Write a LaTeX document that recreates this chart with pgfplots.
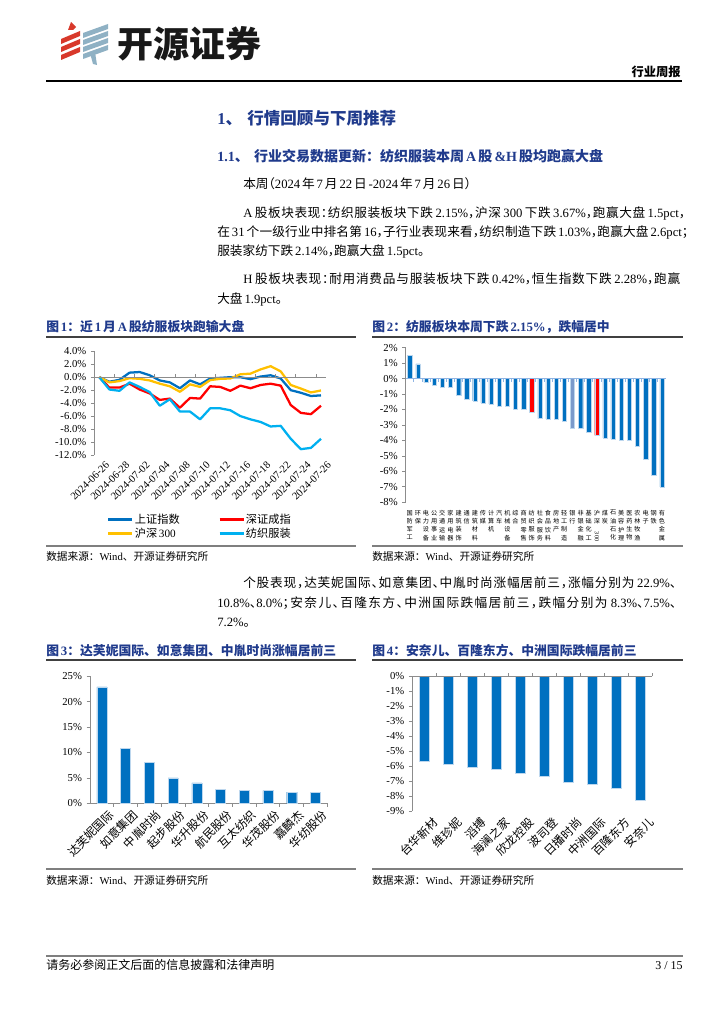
\documentclass[border=0pt]{standalone}
\usepackage{fontspec}
\usepackage{graphicx}
\usepackage{pgfplots}
\pgfplotsset{compat=1.18}
\setmainfont{Liberation Serif}
\newfontfamily\cjkn{Noto Sans CJK SC}
\newfontfamily\cjkh{Noto Sans CJK SC}[RawFeature=+halt]
\newcommand\cjk{\cjkn}

% switch to the CJK font on Chinese characters, back to the main font after them
\newcount\cc \cc="4E00
\loop \XeTeXcharclass\cc=1 \ifnum\cc<"9FFF \advance\cc by 1 \repeat
\XeTeXcharclass"3001=3 \XeTeXcharclass"3002=3 \XeTeXcharclass"FF0C=3
\XeTeXcharclass"FF1A=3 \XeTeXcharclass"FF1B=3 \XeTeXcharclass"FF09=3
\XeTeXcharclass"FF08=2
\newcommand\cjkglue{\hskip0pt plus 1pt\relax}
\newcommand\latglue{\hskip0.15em plus 1pt\relax}
\XeTeXinterchartokenstate=1
\XeTeXinterchartoks 0 1 = {\latglue\cjk}
\XeTeXinterchartoks 0 2 = {\cjk}
\XeTeXinterchartoks 0 3 = {\cjk}
\XeTeXinterchartoks 1 0 = {\latglue\rmfamily}
\XeTeXinterchartoks 2 0 = {\rmfamily}
\XeTeXinterchartoks 3 0 = {\rmfamily}
\XeTeXinterchartoks 4095 1 = {\cjk}
\XeTeXinterchartoks 4095 2 = {\cjk}
\XeTeXinterchartoks 4095 3 = {\cjk}
\XeTeXinterchartoks 1 4095 = {\rmfamily}
\XeTeXinterchartoks 2 4095 = {\rmfamily}
\XeTeXinterchartoks 3 4095 = {\rmfamily}
\XeTeXinterchartoks 1 1 = {\cjkglue}
\XeTeXinterchartoks 1 2 = {\cjkglue}
\XeTeXinterchartoks 1 3 = {\cjkglue}
\XeTeXinterchartoks 2 1 = {\cjkglue}
\XeTeXinterchartoks 3 1 = {\cjkglue}
\XeTeXinterchartoks 3 2 = {\cjkglue}
\XeTeXinterchartoks 3 3 = {\cjkglue}

\definecolor{navy}{HTML}{1F3A8C}
\definecolor{axgray}{HTML}{8C8C8C}
\definecolor{cSH}{HTML}{0070C0}
\definecolor{cSZ}{HTML}{FF0000}
\definecolor{cHS}{HTML}{FFC000}
\definecolor{cTX}{HTML}{00B0F0}
\definecolor{barblue}{HTML}{0070C0}
\definecolor{baredge}{HTML}{BDD7EE}
\definecolor{bargray}{HTML}{7A9ACB}
\definecolor{zeroblue}{HTML}{8EB4E3}
\definecolor{logored}{HTML}{D8392B}
\definecolor{logoblue}{HTML}{8FB1C4}
\definecolor{rulegray}{HTML}{7F7F7F}

\newdimen\pxu \pxu=0.75pt
\newcommand\bline[3]{\node[anchor=base west,inner sep=0pt,font=\fontsize{9.5}{11}\selectfont] at (#1) {\let\cjk\cjkh\hbox to #2{#3}};}
\newcommand\nline[2]{\node[anchor=base west,inner sep=0pt,font=\fontsize{9.5}{11}\selectfont] at (#1) {\let\cjk\cjkh #2};}
\newcommand\figtitle[2]{\node[anchor=base west,inner sep=0pt,text=navy,font=\bfseries\fontsize{9.6}{11}\selectfont] at (#1) {#2};}
\newcommand\source[1]{\node[anchor=base west,inner sep=0pt,font=\fontsize{8}{9}\selectfont] at (#1) {数据来源：Wind、开源证券研究所};}

\pgfplotsset{
  rc/.style={scale only axis, axis lines*=left, tick align=outside,
    axis line style={draw=axgray, line width=0.7pt},
    ytick style={draw=axgray, line width=0.6pt},
    xtick style={draw=none},
    major tick length=2.5pt,
    tick label style={font=\fontsize{8}{9}\selectfont, text=black},
    /pgf/number format/assume math mode=true,
    clip=false},
}

\begin{document}
\begin{tikzpicture}[x=0.75pt,y=-0.75pt]
\fill[white] (0,0) rectangle (724,1024);
\useasboundingbox (0,0) rectangle (724,1024);

% logo
\fill[logored] (68,30) -- (71,22) -- (76,27) -- (73,30) -- cycle;
\foreach \k in {0,1,2}{
  \fill[logored] (61,{39+8*\k}) -- (80,{31+8*\k}) -- (80,{36+8*\k}) -- (61,{44+8*\k}) -- cycle;}
\foreach \k in {0,1,2,3}{
  \fill[logoblue] (83,{33+7*\k}) -- (108,{24+7*\k}) -- (108,{29+7*\k}) -- (83,{38+7*\k}) -- cycle;}
\fill[logoblue] (90,53) -- (95,52) -- (97,65) -- (93,64) -- cycle;
\node[anchor=west,inner sep=0pt,text=black!90,font=\bfseries\fontsize{27}{30}\selectfont] at (117,44) {开源证券};

% header
\node[anchor=base east,inner sep=0pt,font=\bfseries\fontsize{9.2}{10}\selectfont] at (681,77) {行业周报};
\draw[line width=0.8pt] (46,81) -- (682,81);

% headings and text
\node[anchor=base west,inner sep=0pt,text=navy,font=\bfseries\fontsize{12.4}{14}\selectfont] at (217,124) {1、\hspace{4pt}行情回顾与下周推荐};
\node[anchor=base west,inner sep=0pt,text=navy,font=\bfseries\fontsize{10.5}{12}\selectfont] at (217,161) {1.1、\hspace{4pt}行业交易数据更新：纺织服装本周A股\&H股均跑赢大盘};
\nline{243,188}{本周（2024年7月22日-2024年7月26日）}
\bline{243,217}{442\pxu}{A股板块表现：纺织服装板块下跌2.15\%，沪深300下跌3.67\%，跑赢大盘1.5pct，}
\bline{217,236}{471\pxu}{在31个一级行业中排名第16，子行业表现来看，纺织制造下跌1.03\%，跑赢大盘2.6pct；}
\nline{217,255}{服装家纺下跌2.14\%，跑赢大盘1.5pct。}
\bline{243,283}{437\pxu}{H股板块表现：耐用消费品与服装板块下跌0.42\%，恒生指数下跌2.28\%，跑赢}
\nline{217,303}{大盘1.9pct。}
\bline{243,587}{433\pxu}{个股表现，达芙妮国际、如意集团、中胤时尚涨幅居前三，涨幅分别为22.9\%、}
\bline{217,607}{459\pxu}{10.8\%、8.0\%；安奈儿、百隆东方、中洲国际跌幅居前三，跌幅分别为8.3\%、7.5\%、}
\nline{217,626}{7.2\%。}

% figure frames
\figtitle{46,331}{图1：近1月A股纺服板块跑输大盘}
\figtitle{372,331}{图2：纺服板块本周下跌2.15\%，跌幅居中}
\figtitle{46,655}{图3：达芙妮国际、如意集团、中胤时尚涨幅居前三}
\figtitle{372,655}{图4：安奈儿、百隆东方、中洲国际跌幅居前三}
\draw[black!75,line width=1pt] (46,337) -- (356,337) (372,337) -- (683,337)
  (46,660) -- (356,660) (372,660) -- (683,660);
\draw[rulegray,line width=1.5pt] (46,546) -- (356,546) (372,546) -- (683,546)
  (46,869) -- (356,869) (372,869) -- (683,869);
\source{46,560}
\source{372,560}
\source{46,884}
\source{372,884}

% footer
\draw[rulegray,line width=1.5pt] (46,956) -- (683,956);
\node[anchor=base west,inner sep=0pt,font=\fontsize{9}{10}\selectfont] at (46,969) {请务必参阅正文后面的信息披露和法律声明};
\node[anchor=base east,inner sep=0pt,font=\fontsize{9}{10}\selectfont] at (683,969) {3 / 15};

\coordinate (p1) at (94.3,455);
\coordinate (p2) at (405.7,502.3);
\coordinate (p3) at (90,803.3);
\coordinate (p4) at (412.3,811);

% chart 1
\begin{axis}[rc, at={(p1)}, anchor=south west, width=173.8pt, height=77.8pt,
  xmin=-0.5, xmax=22.5, ymin=-12, ymax=4,
  x axis line style={draw=none},
  xtick={0,2,...,22},
  xticklabels={2024-06-26,2024-06-28,2024-07-02,2024-07-04,2024-07-08,2024-07-10,2024-07-12,2024-07-16,2024-07-18,2024-07-22,2024-07-24,2024-07-26},
  xticklabel style={rotate=45, anchor=north east, font=\fontsize{8}{9}\selectfont, inner sep=1pt, xshift=3pt, yshift=-3pt},
  ytick={-12,-10,...,4},
  yticklabels={-12.0\%,-10.0\%,-8.0\%,-6.0\%,-4.0\%,-2.0\%,0.0\%,2.0\%,4.0\%},
  legend columns=2, legend cell align=left,
  legend style={draw=none, fill=none, at={(0.055,-0.55)}, anchor=north west,
    font=\fontsize{8.4}{9}\selectfont, inner sep=0pt, row sep=0pt,
    nodes={inner sep=1pt},
    /tikz/every even column/.append style={column sep=28pt}},
  legend image code/.code={\draw[#1, line width=1.7pt] (0pt,0pt) -- (18pt,0pt);},
  every axis plot/.append style={line width=1.7pt, line join=round, no markers}]
\addplot[cSH] coordinates {(0,0) (1,-0.7) (2,-0.4) (3,0.7) (4,0.8) (5,0.3) (6,-0.5) (7,-0.8) (8,-1.7) (9,-0.5) (10,-1.1) (11,-0.2) (12,-0.1) (13,0.0) (14,0.0) (15,-0.3) (16,0.1) (17,0.3) (18,-0.2) (19,-2.0) (20,-2.4) (21,-2.9) (22,-2.8)};
\addlegendentry{上证指数}
\addplot[cSZ] coordinates {(0,0) (1,-1.6) (2,-1.6) (3,-1.0) (4,-1.9) (5,-2.5) (6,-3.5) (7,-3.3) (8,-4.7) (9,-3.2) (10,-3.3) (11,-1.4) (12,-1.5) (13,-2.1) (14,-1.3) (15,-1.7) (16,-1.2) (17,-1.0) (18,-1.3) (19,-4.3) (20,-5.5) (21,-5.7) (22,-4.4)};
\addlegendentry{深证成指}
\addplot[cHS] coordinates {(0,0) (1,-0.8) (2,-0.6) (3,-0.15) (4,-0.25) (5,-0.5) (6,-1.0) (7,-1.4) (8,-2.25) (9,-1.1) (10,-1.5) (11,-0.45) (12,-0.25) (13,-0.2) (14,0.45) (15,0.55) (16,1.2) (17,1.7) (18,0.9) (19,-1.2) (20,-1.75) (21,-2.35) (22,-2.05)};
\addlegendentry{沪深300}
\addplot[cTX] coordinates {(0,0) (1,-1.9) (2,-2.1) (3,-0.8) (4,-1.5) (5,-2.3) (6,-4.4) (7,-3.4) (8,-5.3) (9,-5.3) (10,-6.5) (11,-4.8) (12,-4.8) (13,-5.1) (14,-6.0) (15,-6.5) (16,-6.9) (17,-7.6) (18,-7.5) (19,-9.5) (20,-11.1) (21,-10.9) (22,-9.5)};
\addlegendentry{纺织服装}
\draw[axgray, line width=0.7pt] (axis cs:-0.5,0) -- (axis cs:22.5,0);
\pgfplotsinvokeforeach{1.5,3.5,5.5,7.5,9.5,11.5,13.5,15.5,17.5,19.5,21.5}{
  \draw[axgray, line width=0.6pt] (axis cs:#1,0) -- ++(0pt,2.5pt);}
\end{axis}

% chart 2
\begin{axis}[rc, at={(p2)}, anchor=south west, width=195.2pt, height=116pt,
  xmin=-0.5, xmax=31.5, ymin=-8, ymax=2,
  x axis line style={draw=none},
  xtick={0,...,31},
  xticklabels={{国\\防\\军\\工},{环\\保},{电\\力\\设\\备},{公\\用\\事\\业},{交\\通\\运\\输},{家\\用\\电\\器},{建\\筑\\装\\饰},{通\\信},{建\\筑\\材\\料},{传\\媒},{计\\算\\机},{汽\\车},{机\\械\\设\\备},{综\\合},{商\\贸\\零\\售},{纺\\织\\服\\饰},{社\\会\\服\\务},{食\\品\\饮\\料},{房\\地\\产},{轻\\工\\制\\造},{银\\行},{非\\银\\金\\融},{基\\础\\化\\工},{沪\\深\\\rotatebox{-90}{300}},{煤\\炭},{石\\油\\石\\化},{美\\容\\护\\理},{医\\药\\生\\物},{农\\林\\牧\\渔},{电\\子},{钢\\铁},{有\\色\\金\\属}},
  xticklabel style={align=center, anchor=north, font=\fontsize{4.6}{6.2}\selectfont, inner sep=0.3pt, yshift=-3pt},
  ytick={-8,...,2},
  yticklabels={-8\%,-7\%,-6\%,-5\%,-4\%,-3\%,-2\%,-1\%,0\%,1\%,2\%},
  every axis plot/.append style={ybar, bar width=3.2pt, bar shift=0pt, draw=baredge, line width=0.3pt}]
\addplot[fill=barblue] coordinates {(0,1.49) (1,0.95) (2,-0.24) (3,-0.45) (4,-0.56) (5,-0.56) (6,-1.1) (7,-1.31) (8,-1.44) (9,-1.57) (10,-1.64) (11,-1.77) (12,-1.79) (13,-1.96) (14,-1.96) (16,-2.59) (17,-2.61) (18,-2.65) (19,-2.78) (21,-3.21) (22,-3.45) (24,-3.84) (25,-3.9) (26,-3.97) (27,-3.99) (28,-4.4) (29,-5.24) (30,-6.27) (31,-7.0)};
\addplot[fill=cSZ] coordinates {(15,-2.15) (23,-3.67)};
\addplot[fill=bargray] coordinates {(20,-3.19)};
\draw[zeroblue, line width=1.1pt] (axis cs:-0.5,0) -- (axis cs:31.5,0);
\pgfplotsinvokeforeach{0.5,1.5,...,30.5}{
  \draw[zeroblue, line width=0.6pt] (axis cs:#1,0) -- ++(0pt,-2.5pt);}
\end{axis}

% chart 3
\begin{axis}[rc, at={(p3)}, anchor=south west, width=178pt, height=95.25pt,
  xmin=-0.5, xmax=9.5, ymin=0, ymax=25,
  xtick={0,...,9},
  xticklabels={达芙妮国际,如意集团,中胤时尚,起步股份,华升股份,航民股份,互太纺织,华茂股份,嘉麟杰,华纺股份},
  xticklabel style={rotate=45, anchor=north east, font=\fontsize{8.8}{9}\selectfont, inner sep=1pt, xshift=3pt, yshift=-3pt},
  ytick={0,5,...,25},
  yticklabels={0\%,5\%,10\%,15\%,20\%,25\%},
  every axis plot/.append style={ybar, bar width=7.5pt, bar shift=0pt, draw=baredge, line width=0.3pt}]
\addplot[fill=barblue] coordinates {(0,22.9) (1,10.8) (2,8.0) (3,5.0) (4,4.0) (5,2.8) (6,2.5) (7,2.5) (8,2.2) (9,2.2)};
\pgfplotsinvokeforeach{0.5,1.5,...,9.5}{
  \draw[axgray, line width=0.6pt] (axis cs:#1,0) -- ++(0pt,-2.5pt);}
\end{axis}

% chart 4
\begin{axis}[rc, at={(p4)}, anchor=south west, width=180pt, height=101.25pt,
  xmin=-0.5, xmax=9.5, ymin=-9, ymax=0,
  x axis line style={draw=none},
  xtick={0,...,9},
  xticklabels={台华新材,维珍妮,滔搏,海澜之家,欣龙控股,波司登,日播时尚,中洲国际,百隆东方,安奈儿},
  xticklabel style={rotate=45, anchor=north east, font=\fontsize{8.8}{9}\selectfont, inner sep=1pt, xshift=4pt, yshift=-4pt},
  ytick={-9,...,0},
  yticklabels={-9\%,-8\%,-7\%,-6\%,-5\%,-4\%,-3\%,-2\%,-1\%,0\%},
  every axis plot/.append style={ybar, bar width=7.5pt, bar shift=0pt, draw=baredge, line width=0.3pt}]
\addplot[fill=barblue] coordinates {(0,-5.7) (1,-5.9) (2,-6.1) (3,-6.2) (4,-6.5) (5,-6.7) (6,-7.1) (7,-7.2) (8,-7.5) (9,-8.3)};
\draw[axgray, line width=0.7pt] (axis cs:-0.5,0) -- (axis cs:9.5,0);
\pgfplotsinvokeforeach{0.5,1.5,...,9.5}{
  \draw[axgray, line width=0.6pt] (axis cs:#1,0) -- ++(0pt,2.5pt);}
\end{axis}
\end{tikzpicture}
\end{document}
